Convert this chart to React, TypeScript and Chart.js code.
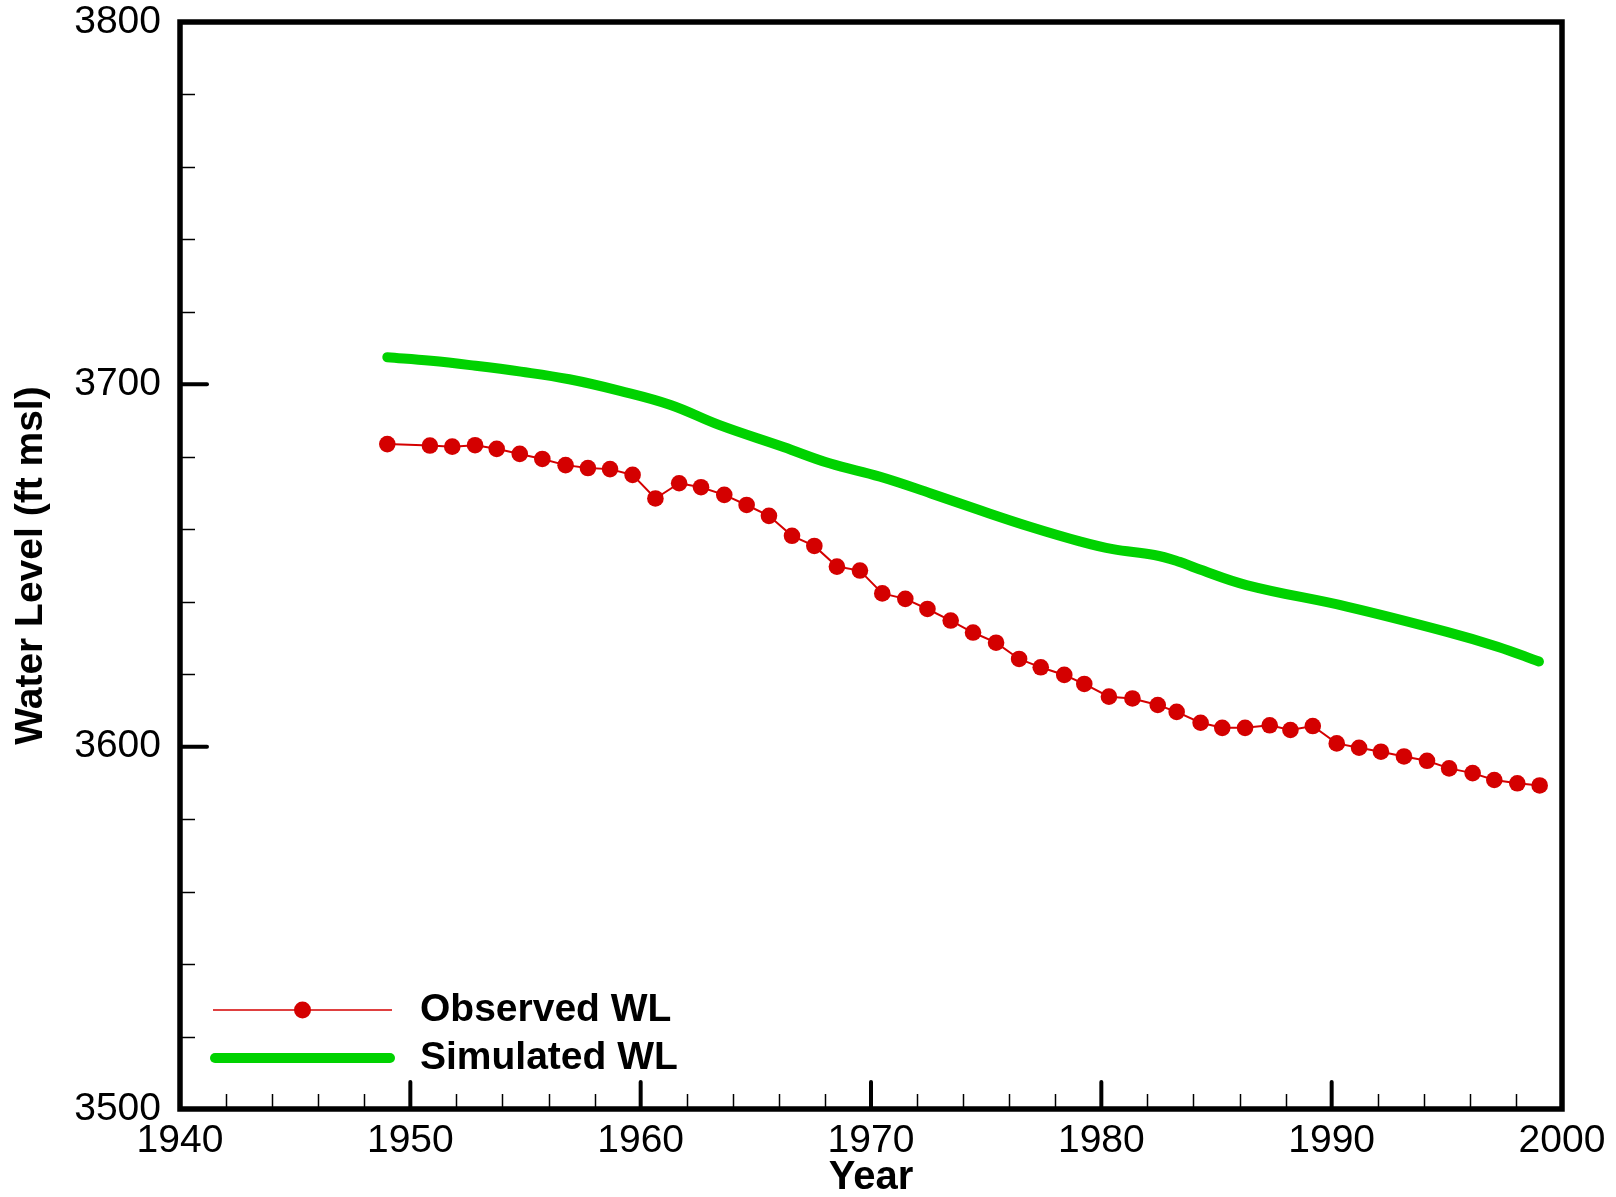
import { useEffect, useRef } from "react";
import { Chart, registerables } from "chart.js";

Chart.register(...registerables);

// ---- data ----
const observedYears = [
  1949.0, 1950.85, 1951.82, 1952.81, 1953.75, 1954.75, 1955.73, 1956.74, 1957.71, 1958.67,
  1959.65, 1960.64, 1961.67, 1962.62, 1963.63, 1964.6, 1965.57, 1966.57, 1967.54, 1968.52,
  1969.52, 1970.49, 1971.49, 1972.45, 1973.46, 1974.43, 1975.43, 1976.43, 1977.37, 1978.39,
  1979.26, 1980.33, 1981.35, 1982.45, 1983.27, 1984.31, 1985.25, 1986.24, 1987.31, 1988.21,
  1989.18, 1990.22, 1991.19, 1992.14, 1993.14, 1994.14, 1995.1, 1996.12, 1997.06, 1998.06,
  1999.03,
];
const observedLevels = [
  3683.5, 3683.1, 3682.8, 3683.2, 3682.2, 3680.8, 3679.4, 3677.7, 3676.9, 3676.6,
  3675.0, 3668.5, 3672.7, 3671.6, 3669.5, 3666.7, 3663.7, 3658.2, 3655.4, 3649.7,
  3648.6, 3642.3, 3640.8, 3638.0, 3634.8, 3631.5, 3628.7, 3624.2, 3621.9, 3619.8,
  3617.3, 3613.8, 3613.3, 3611.5, 3609.6, 3606.6, 3605.2, 3605.2, 3605.9, 3604.6,
  3605.7, 3600.9, 3599.7, 3598.6, 3597.3, 3596.1, 3594.0, 3592.7, 3590.8, 3589.9,
  3589.3,
];
const simulatedYears = [
  1949.0, 1950.9, 1952.6, 1954.8, 1956.9, 1959.1, 1961.3, 1963.4, 1966.2, 1968.2,
  1970.4, 1972.6, 1974.7, 1976.9, 1979.1, 1980.5, 1982.3, 1983.4, 1984.1, 1986.3,
  1990.7, 1995.0, 1997.2, 1999.0,
];
const simulatedLevels = [
  3707.5, 3706.5, 3705.3, 3703.5, 3701.4, 3698.2, 3694.3, 3688.8, 3682.7, 3678.2,
  3674.5, 3669.9, 3665.3, 3660.7, 3656.6, 3654.5, 3652.9, 3651.0, 3649.3, 3644.6,
  3638.6, 3631.7, 3627.6, 3623.5,
];
const seriesLabels = ["Observed WL", "Simulated WL"];
const xTickYears = [1940, 1950, 1960, 1970, 1980, 1990, 2000];
const yTickLevels = [3500, 3600, 3700, 3800];
const xMinorStep = 2;
const yMinorStep = 20;
const xTitle = "Year";
const yTitle = "Water Level (ft msl)";

const RED = "rgb(212,0,0)";
const GREEN = "rgb(0,210,0)";
const FONT = '"Liberation Sans", Arial, Helvetica, sans-serif';

const frameAndLegend = {
  id: "frameAndLegend",
  afterDraw(chart: any) {
    const { ctx, chartArea } = chart;
    const { left, right, top, bottom } = chartArea;
    const xs = chart.scales.x;
    const ys = chart.scales.y;
    ctx.save();
    ctx.strokeStyle = "#000";

    // minor ticks (inward)
    ctx.lineWidth = 1.5;
    ctx.lineCap = "butt";
    const xMajor = new Set(xTickYears);
    for (let v = xTickYears[0]; v <= xTickYears[xTickYears.length - 1]; v += xMinorStep) {
      if (xMajor.has(v)) continue;
      const px = Math.round(xs.getPixelForValue(v)) + 0.5;
      ctx.beginPath();
      ctx.moveTo(px, bottom);
      ctx.lineTo(px, bottom - 15);
      ctx.stroke();
    }
    const yMajor = new Set(yTickLevels);
    for (let v = yTickLevels[0]; v <= yTickLevels[yTickLevels.length - 1]; v += yMinorStep) {
      if (yMajor.has(v)) continue;
      const py = Math.round(ys.getPixelForValue(v)) + 0.5;
      ctx.beginPath();
      ctx.moveTo(left, py);
      ctx.lineTo(left + 15, py);
      ctx.stroke();
    }
    // major ticks (inward)
    ctx.lineWidth = 4;
    ctx.lineCap = "round";
    xTickYears.forEach((v) => {
      const px = xs.getPixelForValue(v);
      ctx.beginPath();
      ctx.moveTo(px, bottom);
      ctx.lineTo(px, bottom - 27);
      ctx.stroke();
    });
    yTickLevels.forEach((v) => {
      const py = ys.getPixelForValue(v);
      ctx.beginPath();
      ctx.moveTo(left, py);
      ctx.lineTo(left + 27, py);
      ctx.stroke();
    });

    // frame
    ctx.lineWidth = 5.5;
    ctx.lineJoin = "miter";
    ctx.lineCap = "butt";
    ctx.strokeRect(left, top, right - left, bottom - top);

    // legend
    const ds = chart.data.datasets;
    const lx0 = left + 33;
    const lx1 = left + 212;
    const row1 = bottom - 99;
    const row2 = bottom - 51;
    ctx.strokeStyle = RED;
    ctx.lineWidth = 1.5;
    ctx.beginPath();
    ctx.moveTo(lx0, row1);
    ctx.lineTo(lx1, row1);
    ctx.stroke();
    ctx.fillStyle = RED;
    ctx.beginPath();
    ctx.arc((lx0 + lx1) / 2, row1, 8.5, 0, Math.PI * 2);
    ctx.fill();

    ctx.strokeStyle = GREEN;
    ctx.lineWidth = 10;
    ctx.lineCap = "round";
    ctx.beginPath();
    ctx.moveTo(lx0 + 2, row2);
    ctx.lineTo(lx1 - 2, row2);
    ctx.stroke();

    ctx.fillStyle = "#000";
    ctx.font = `bold 39px ${FONT}`;
    ctx.textAlign = "left";
    ctx.textBaseline = "middle";
    ctx.fillText(ds[0].label, left + 240, row1);
    ctx.fillText(ds[1].label, left + 240, row2);
    ctx.restore();
  },
};

export default function App() {
  const canvasRef = useRef<HTMLCanvasElement | null>(null);

  useEffect(() => {
    document.body.style.margin = "0";
    const canvas = canvasRef.current;
    if (!canvas) return;
    const chart = new Chart(canvas, {
      type: "line",
      data: {
        datasets: [
          {
            label: seriesLabels[0],
            data: observedYears.map((x, i) => ({ x, y: observedLevels[i] })),
            borderColor: RED,
            backgroundColor: RED,
            borderWidth: 2,
            pointRadius: 8.3,
            pointBorderWidth: 0,
            pointBackgroundColor: RED,
            pointBorderColor: RED,
            tension: 0,
            fill: false,
            order: 1,
          },
          {
            label: seriesLabels[1],
            data: simulatedYears.map((x, i) => ({ x, y: simulatedLevels[i] })),
            borderColor: GREEN,
            backgroundColor: GREEN,
            borderWidth: 10,
            pointRadius: 0,
            borderCapStyle: "round",
            borderJoinStyle: "round",
            tension: 0.4,
            fill: false,
            order: 2,
          },
        ],
      },
      options: {
        responsive: false,
        animation: false,
        devicePixelRatio: 1,
        layout: { padding: { top: 22, right: 54, bottom: 0, left: 0 } },
        plugins: {
          legend: { display: false },
          tooltip: { enabled: false },
        },
        scales: {
          x: {
            type: "linear",
            min: xTickYears[0],
            max: xTickYears[xTickYears.length - 1],
            afterBuildTicks: (scale: any) => {
              scale.ticks = xTickYears.map((v) => ({ value: v }));
            },
            afterFit: (scale: any) => {
              scale.height = 88;
              scale.paddingLeft = 0;
              scale.paddingRight = 0;
            },
            grid: { display: false, drawTicks: false, tickLength: 0 },
            border: { display: false },
            ticks: {
              autoSkip: false,
              maxRotation: 0,
              padding: 13,
              color: "#000",
              font: { family: FONT, size: 39, lineHeight: 1 },
              callback: (v: any) => String(v),
            },
            title: {
              display: true,
              text: xTitle,
              color: "#000",
              font: { family: FONT, size: 40, weight: "bold", lineHeight: 1 },
              padding: { top: 0, bottom: -1 },
            },
          },
          y: {
            type: "linear",
            min: yTickLevels[0],
            max: yTickLevels[yTickLevels.length - 1],
            afterBuildTicks: (scale: any) => {
              scale.ticks = yTickLevels.map((v) => ({ value: v }));
            },
            afterFit: (scale: any) => {
              scale.width = 180;
              scale.paddingTop = 0;
              scale.paddingBottom = 0;
            },
            grid: { display: false, drawTicks: false, tickLength: 0 },
            border: { display: false },
            ticks: {
              autoSkip: false,
              padding: 19,
              color: "#000",
              font: { family: FONT, size: 39, lineHeight: 1 },
              callback: (v: any) => String(v),
            },
            title: {
              display: true,
              text: yTitle,
              color: "#000",
              font: { family: FONT, size: 39, weight: "bold", lineHeight: 1 },
              padding: { top: 12, bottom: 0 },
            },
          },
        },
      },
      plugins: [frameAndLegend],
    } as any);
    return () => {
      chart.destroy();
    };
  }, []);

  return (
    <div style={{ width: 1616, height: 1197, background: "#fff" }}>
      <canvas ref={canvasRef} width={1616} height={1197} style={{ display: "block" }} />
    </div>
  );
}
